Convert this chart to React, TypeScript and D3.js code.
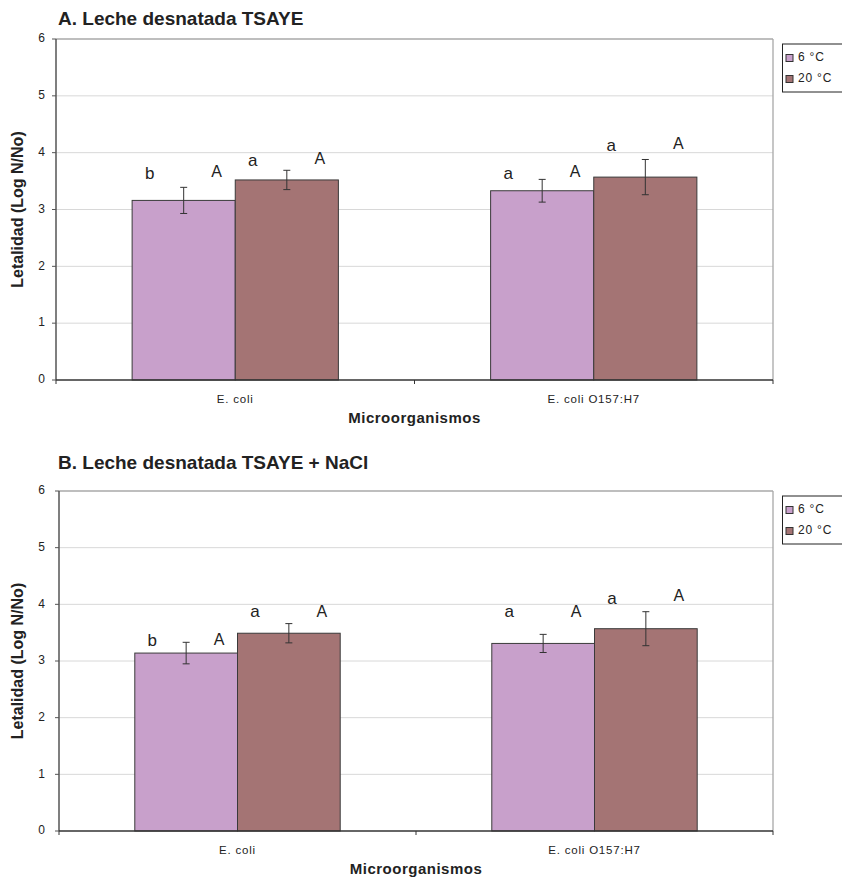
import React from 'react'
import * as d3 from 'd3'

const categories = ['E. coli', 'E. coli O157:H7']
const series = ['6 °C', '20 °C']
const colors = ['#C8A0CB', '#A47474']
const yTicks = [0, 1, 2, 3, 4, 5, 6]

// panel A: Leche desnatada TSAYE
const valuesA6 = [3.16, 3.33]
const valuesA20 = [3.52, 3.57]
const errA6 = [0.23, 0.2]
const errA20 = [0.17, 0.31]
// letters per bar (cat1-6, cat1-20, cat2-6, cat2-20), lower / upper
const lettersA = [['b', 'A'], ['a', 'A'], ['a', 'A'], ['a', 'A']]
const letterYA = [[3.61, 3.64], [3.84, 3.87], [3.61, 3.64], [4.1, 4.14]]

// panel B: Leche desnatada TSAYE + NaCl
const valuesB6 = [3.14, 3.31]
const valuesB20 = [3.49, 3.57]
const errB6 = [0.19, 0.16]
const errB20 = [0.17, 0.3]
const lettersB = [['b', 'A'], ['a', 'A'], ['a', 'A'], ['a', 'A']]
const letterYB = [[3.34, 3.35], [3.85, 3.85], [3.85, 3.85], [4.08, 4.13]]

const font = 'Arial, "Liberation Sans", sans-serif'

type PanelProps = {
  title: string
  titleY: number
  top: number
  bottom: number
  left: number
  right: number
  v6: number[]
  v20: number[]
  e6: number[]
  e20: number[]
  letters: string[][]
  letterY: number[][]
}

const Panel = ({title, titleY, top, bottom, left, right, v6, v20, e6, e20, letters, letterY}: PanelProps) => {
  const x = d3.scaleBand().domain(categories).range([left, right]).padding(0)
  const xs = d3.scaleBand().domain(series).range([0, x.bandwidth()]).paddingInner(0).paddingOuter(0.738)
  const y = d3.scaleLinear().domain([0, 6]).range([bottom, top])
  const bw = xs.bandwidth()

  const bars: {cat: string, s: string, v: number, e: number, i: number}[] = []
  categories.forEach((c, ci) => {
    bars.push({cat: c, s: series[0], v: v6[ci], e: e6[ci], i: ci * 2})
    bars.push({cat: c, s: series[1], v: v20[ci], e: e20[ci], i: ci * 2 + 1})
  })

  const legendTop = top + 5
  return (
    <g fontFamily={font}>
      <text x={58} y={titleY} fontSize={19} fontWeight="bold" dominantBaseline="middle" fill="#222">{title}</text>
      {/* grid */}
      {yTicks.filter(t => t > 0 && t < 6).map(t => (
        <line key={t} x1={left} x2={right} y1={y(t)} y2={y(t)} stroke="#D8D8D8" strokeWidth={1} />
      ))}
      <line x1={left} x2={right} y1={y(6)} y2={y(6)} stroke="#A8A8A8" strokeWidth={1.3} />
      <line x1={right} x2={right} y1={y(6)} y2={y(0)} stroke="#A8A8A8" strokeWidth={1.3} />
      {/* bars */}
      {bars.map(b => {
        const bx = (x(b.cat) as number) + (xs(b.s) as number)
        const cx = bx + bw / 2
        return (
          <g key={b.i}>
            <rect x={bx} y={y(b.v)} width={bw} height={y(0) - y(b.v)}
              fill={b.s === series[0] ? colors[0] : colors[1]} stroke="#3a3a3a" strokeWidth={1} />
            <line x1={cx} x2={cx} y1={y(b.v + b.e)} y2={y(b.v - b.e)} stroke="#333" strokeWidth={1} />
            <line x1={cx - 3.5} x2={cx + 3.5} y1={y(b.v + b.e)} y2={y(b.v + b.e)} stroke="#333" strokeWidth={1} />
            <line x1={cx - 3.5} x2={cx + 3.5} y1={y(b.v - b.e)} y2={y(b.v - b.e)} stroke="#333" strokeWidth={1} />
            <text x={bx + bw * 0.17} y={y(letterY[b.i][0])} fontSize={17} textAnchor="middle" dominantBaseline="middle" fill="#222">{letters[b.i][0]}</text>
            <text x={bx + bw * 0.82} y={y(letterY[b.i][1])} fontSize={16} textAnchor="middle" dominantBaseline="middle" fill="#222">{letters[b.i][1]}</text>
          </g>
        )
      })}
      {/* axes */}
      <line x1={left} x2={left} y1={y(6)} y2={y(0)} stroke="#555" strokeWidth={1.5} />
      <line x1={left} x2={right} y1={y(0)} y2={y(0)} stroke="#333" strokeWidth={1.5} />
      {yTicks.map(t => (
        <g key={t}>
          <line x1={left - 4} x2={left} y1={y(t)} y2={y(t)} stroke="#555" strokeWidth={1} />
          <text x={45} y={y(t)} fontSize={12} textAnchor="end" dominantBaseline="middle" fill="#222">{t}</text>
        </g>
      ))}
      {[left, (x(categories[1]) as number), right].map((tx, i) => (
        <line key={i} x1={tx} x2={tx} y1={y(0)} y2={y(0) + 4} stroke="#333" strokeWidth={1} />
      ))}
      {categories.map(c => (
        <text key={c} x={(x(c) as number) + x.bandwidth() / 2} y={y(0) + 20} fontSize={11.5} letterSpacing={0.8}
          textAnchor="middle" dominantBaseline="middle" fill="#222">{c}</text>
      ))}
      <text x={(left + right) / 2} y={y(0) + 39} fontSize={15} fontWeight="bold" textAnchor="middle"
        dominantBaseline="middle" letterSpacing={0.5} fill="#222">Microorganismos</text>
      <text transform={`translate(19, ${(top + bottom) / 2}) rotate(-90)`} fontSize={16} fontWeight="bold"
        textAnchor="middle" dominantBaseline="middle" fill="#222">Letalidad (Log N/No)</text>
      {/* legend */}
      <rect x={782.5} y={legendTop} width={70} height={48} fill="white" stroke="#222" strokeWidth={1} />
      {series.map((s, i) => (
        <g key={s}>
          <rect x={786} y={legendTop + 14 + i * 21 - 3.5} width={7} height={7} fill={colors[i]} stroke="#333" strokeWidth={1} />
          <text x={798} y={legendTop + 14 + i * 21} fontSize={12} letterSpacing={0.8} dominantBaseline="middle" fill="#222">{s}</text>
        </g>
      ))}
    </g>
  )
}

export default function App() {
  return (
    <svg width={842} height={879} style={{position: 'absolute', left: 0, top: 0, background: 'white'}}>
      <rect width={842} height={879} fill="white" />
      <Panel title="A. Leche desnatada TSAYE" titleY={20} top={39} bottom={380} left={56} right={773}
        v6={valuesA6} v20={valuesA20} e6={errA6} e20={errA20} letters={lettersA} letterY={letterYA} />
      <Panel title="B. Leche desnatada TSAYE + NaCl" titleY={464} top={491} bottom={831} left={59} right={773}
        v6={valuesB6} v20={valuesB20} e6={errB6} e20={errB20} letters={lettersB} letterY={letterYB} />
    </svg>
  )
}
